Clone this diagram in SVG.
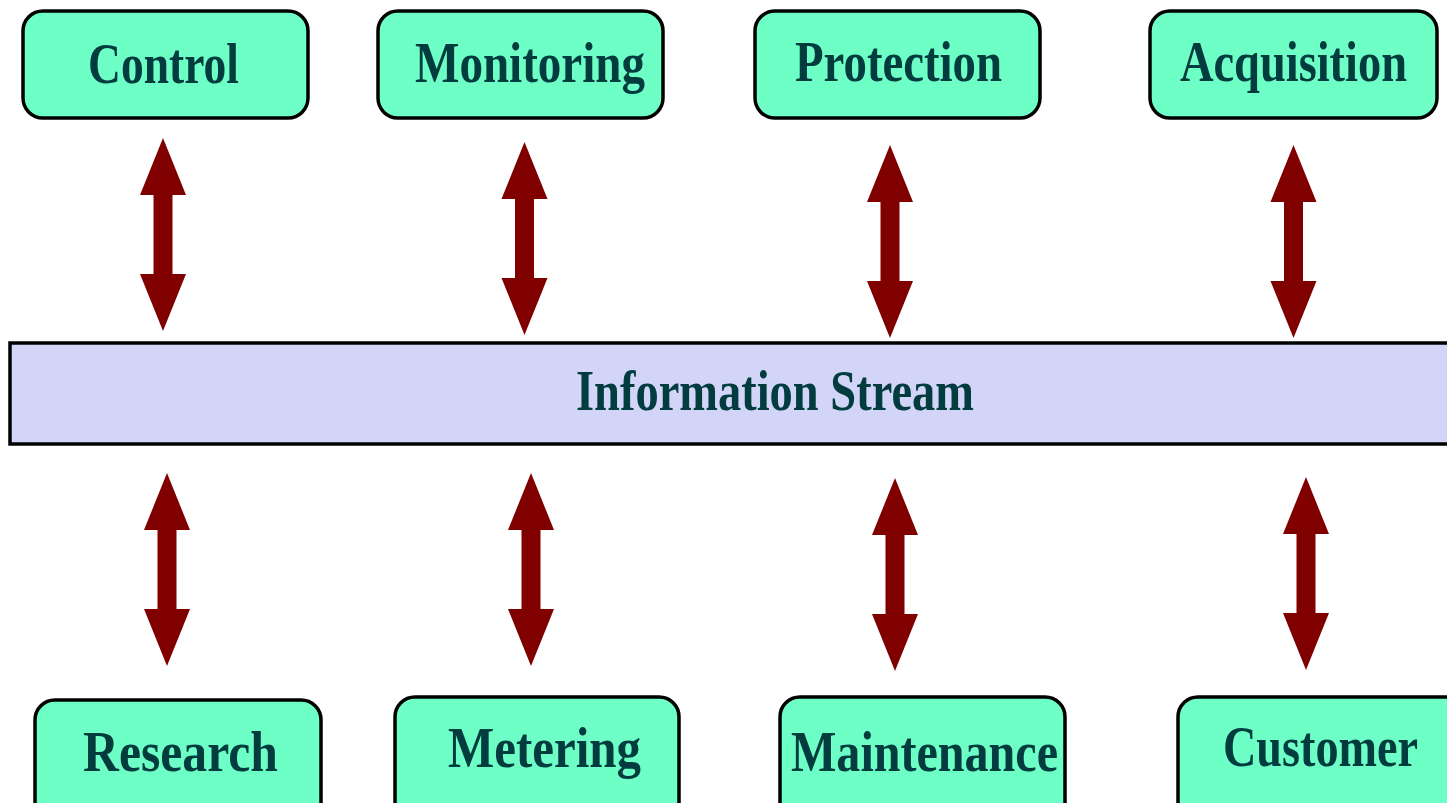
<svg xmlns="http://www.w3.org/2000/svg" width="1447" height="803" viewBox="0 0 1447 803">
  <style>
    .node { fill: #6DFFC6; stroke: #000; stroke-width: 3.5; }
    .bar { fill: #D2D4F8; stroke: #000; stroke-width: 3.5; }
    .label { font-family: "Liberation Serif", "Times New Roman", serif; font-weight: bold; font-size: 58px; fill: #023C3F; }
    .arrow { fill: #800000; }
  </style>
  <defs>
    <!-- double-headed vertical arrow, 193px long, centred on x=0, top tip at y=0 -->
    <polygon id="dbl" points="0,0 23,57 9.5,57 9.5,136 23,136 0,193 -23,136 -9.5,136 -9.5,57 -23,57"/>
  </defs>
  <rect width="1447" height="803" fill="#fff"/>

  <g id="information-stream">
    <rect class="bar" x="10" y="343" width="1460" height="101"/>
    <text class="label" x="576" y="410" font-size="60" textLength="398" lengthAdjust="spacingAndGlyphs">Information Stream</text>
  </g>

  <g id="control">
    <rect class="node" x="23" y="11" width="285" height="107" rx="20"/>
    <text class="label" x="88" y="83" textLength="151" lengthAdjust="spacingAndGlyphs">Control</text>
  </g>
  <g id="monitoring">
    <rect class="node" x="378" y="11" width="285" height="107" rx="20"/>
    <text class="label" x="415" y="82" textLength="230" lengthAdjust="spacingAndGlyphs">Monitoring</text>
  </g>
  <g id="protection">
    <rect class="node" x="755" y="11" width="285" height="107" rx="20"/>
    <text class="label" x="795" y="81" textLength="207" lengthAdjust="spacingAndGlyphs">Protection</text>
  </g>
  <g id="acquisition">
    <rect class="node" x="1150" y="11" width="287" height="107" rx="20"/>
    <text class="label" x="1180" y="81" textLength="227" lengthAdjust="spacingAndGlyphs">Acquisition</text>
  </g>

  <g id="research">
    <rect class="node" x="35" y="700" width="286" height="130" rx="20"/>
    <text class="label" x="83" y="771" textLength="195" lengthAdjust="spacingAndGlyphs">Research</text>
  </g>
  <g id="metering">
    <rect class="node" x="395" y="697" width="284" height="130" rx="20"/>
    <text class="label" x="448" y="767" textLength="193" lengthAdjust="spacingAndGlyphs">Metering</text>
  </g>
  <g id="maintenance">
    <rect class="node" x="780" y="697" width="285" height="130" rx="20"/>
    <text class="label" x="791" y="771" textLength="267" lengthAdjust="spacingAndGlyphs">Maintenance</text>
  </g>
  <g id="customer">
    <rect class="node" x="1178" y="697" width="300" height="130" rx="20"/>
    <text class="label" x="1223" y="766" textLength="195" lengthAdjust="spacingAndGlyphs">Customer</text>
  </g>

  <g id="connectors" class="arrow">
    <use href="#dbl" x="163" y="138"/>
    <use href="#dbl" x="524.5" y="142"/>
    <use href="#dbl" x="890" y="145"/>
    <use href="#dbl" x="1293.5" y="145"/>
    <use href="#dbl" x="167" y="473"/>
    <use href="#dbl" x="531" y="473"/>
    <use href="#dbl" x="895" y="478"/>
    <use href="#dbl" x="1306" y="477"/>
  </g>
</svg>
